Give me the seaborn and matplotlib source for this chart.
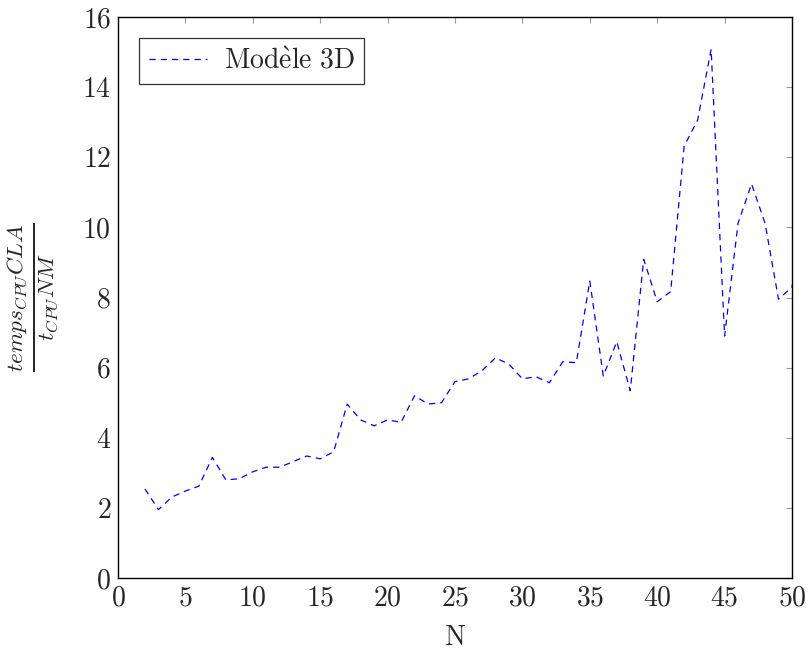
import numpy as np
import matplotlib
matplotlib.use("Agg")
import matplotlib.pyplot as plt
import seaborn as sns

# Ratio of CPU times, classical vs new model, for each N
n_values = list(range(2, 52))
ratio_values = [2.54, 1.95, 2.31, 2.48, 2.62, 3.44, 2.80, 2.83, 3.03, 3.16,
                3.16, 3.32, 3.48, 3.40, 3.60, 4.96, 4.51, 4.34, 4.51, 4.44,
                5.20, 4.96, 5.00, 5.60, 5.68, 5.91, 6.28, 6.10, 5.68, 5.74,
                5.57, 6.17, 6.14, 8.47, 5.76, 6.74, 5.34, 9.09, 7.88, 8.17,
                12.32, 13.06, 15.08, 6.90, 10.12, 11.24, 10.12, 7.95, 8.30, 10.5]
series_label = r"$\mathrm{Mod\grave{e}le\ 3D}$"  # Modèle 3D

sns.set_theme(style="white")
plt.rcParams["font.family"] = ["cmr10", "DejaVu Serif"]
plt.rcParams["mathtext.fontset"] = "cm"
plt.rcParams["axes.formatter.use_mathtext"] = True

fig = plt.figure(figsize=(8.09, 6.55), dpi=100)
ax = fig.add_axes([118 / 809, 1 - 578 / 655, (792 - 118) / 809, (578 - 17) / 655])

sns.lineplot(x=n_values, y=ratio_values, ax=ax, color="blue", linewidth=0.9,
             linestyle=(0, (5, 4)), label=series_label)

ax.set_xlim(0, 50)
ax.set_ylim(0, 16)
ax.set_xticks(np.arange(0, 51, 5))
ax.set_yticks(np.arange(0, 17, 2))
ax.tick_params(direction="in", length=4, width=0.8, color="#999999",
               labelsize=20, top=True, right=True, pad=5)
for s in ax.spines.values():
    s.set_color("black")
    s.set_linewidth(1.0)

ax.set_xlabel("N", fontsize=20, labelpad=10)
ax.set_ylabel(r"$\frac{temps_{CPU}CLA}{t_{CPU}NM}$", fontsize=24, labelpad=15)

leg = ax.legend(loc="upper left", fontsize=20, frameon=True, fancybox=False,
                handlelength=2.1, borderaxespad=0.75, borderpad=0.35,
                handletextpad=0.6)
leg.get_frame().set_edgecolor("black")
leg.get_frame().set_linewidth(0.9)

fig.savefig("out.png", dpi=100)
